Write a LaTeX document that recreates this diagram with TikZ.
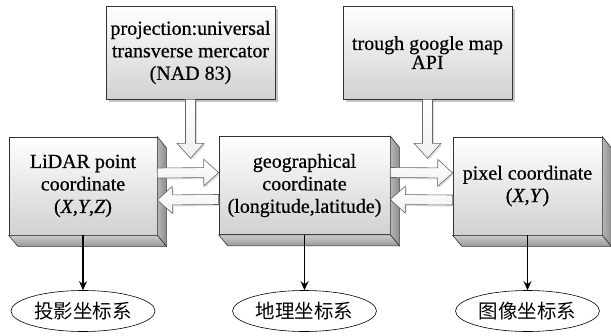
\documentclass[tikz,border=0pt]{standalone}
\usepackage{fontspec}
\setmainfont{Liberation Serif}[FakeBold=0.6]
\newfontfamily\cjk{Noto Sans CJK SC}
\usetikzlibrary{calc,shapes.geometric,shadows,arrows.meta}

\tikzset{
  facebox/.style={draw=black!80, line width=0.6pt, top color=white, bottom color=black!18,
    align=center, inner sep=0pt, font=\fontsize{20}{22.5}\selectfont},
  srcbox/.style={facebox, minimum width=169pt, minimum height=93pt,
    drop shadow={shadow xshift=2.5pt, shadow yshift=-2.5pt, opacity=0.45}},
  solidbox/.style={facebox, minimum height=98pt},
  sideface/.style={draw=black!80, line width=0.6pt, left color=black!28, right color=black!45},
  bottomface/.style={draw=black!80, line width=0.6pt, top color=black!20, bottom color=black!40},
  hollow/.style={draw=black!60, line width=0.6pt, top color=white, bottom color=black!6,
    drop shadow={shadow xshift=1.5pt, shadow yshift=-1.5pt, opacity=0.25}},
  sysellipse/.style={ellipse, draw, line width=0.6pt, fill=white, minimum width=144pt,
    minimum height=41pt, inner sep=0pt, font=\cjk\fontsize{19.5}{20}\selectfont},
  maparrow/.style={-{Stealth[length=9pt,width=8pt]}, line width=1.2pt}
}

% right and bottom faces of a solid box
\newcommand\extrude[1]{%
  \path[sideface] (#1.north east) -- ++(9,11) -- ($(#1.south east)+(9,11)$) -- (#1.south east) -- cycle;
  \path[bottomface] (#1.south west) -- ++(9,11) -- ($(#1.south east)+(9,11)$) -- (#1.south east) -- cycle;
}

% hollow block arrow from #1 to the tip #2
\newcommand\hollowarrow[2]{%
  \coordinate (hb) at ($(#2)!15pt!(#1)$);
  \path[hollow] ($(#1)!5pt!90:(#2)$) -- ($(hb)!5pt!90:(#2)$) -- ($(hb)!13.5pt!90:(#2)$)
    -- (#2) -- ($(hb)!13.5pt!-90:(#2)$) -- ($(hb)!5pt!-90:(#2)$) -- ($(#1)!5pt!-90:(#2)$) -- cycle;
}

\begin{document}
\begin{tikzpicture}[x=1pt,y=-1pt]
\fill[white] (0,0) rectangle (611,335);
\useasboundingbox (0,0) rectangle (611,335);

% source boxes
\node[srcbox] (proj) at (190.5,52.5) {projection:universal\\transverse mercator\\(NAD 83)};
\node[srcbox, font=\fontsize{20}{19}\selectfont] (api) at (427.5,52.5) {trough google map\\API};

% coordinate boxes
\node[solidbox, minimum width=148pt] (lidar) at (83,186) {LiDAR point\\coordinate\\(\textit{X},\textit{Y},\textit{Z})};
\node[solidbox, minimum width=171pt] (geo) at (304.5,185.5) {geographical\\coordinate\\(longitude,latitude)};
\node[solidbox, minimum width=149pt] (pix) at (527.5,186) {pixel coordinate\\(\textit{X},\textit{Y})};
\extrude{lidar}
\extrude{geo}
\extrude{pix}

% coordinate systems
\node[sysellipse] (e1) at ($(lidar.center)+(0,125)$) {投影坐标系};
\node[sysellipse] (e2) at ($(geo.center)+(0,125.5)$) {地理坐标系};
\node[sysellipse] (e3) at ($(pix.center)+(0,125)$) {图像坐标系};

% hollow transfer arrows
\coordinate (ptip) at ($(proj.south)+(0,59)$);
\coordinate (atip) at ($(api.south)+(0,59)$);
\hollowarrow{proj.south}{ptip}
\hollowarrow{api.south}{atip}

\coordinate (lgs) at ([yshift=13pt]lidar.east);
\coordinate (lgt) at ([yshift=13pt]geo.west);
\coordinate (gls) at ([yshift=-14pt]geo.west);
\coordinate (glt) at ([yshift=-14pt]lidar.east);
\hollowarrow{lgs}{lgt}
\hollowarrow{gls}{glt}

\coordinate (gps) at ([yshift=13pt]geo.east);
\coordinate (gpt) at ([yshift=13pt]pix.west);
\coordinate (pgs) at ([yshift=-14pt]pix.west);
\coordinate (pgt) at ([yshift=-14pt]geo.east);
\hollowarrow{gps}{gpt}
\hollowarrow{pgs}{pgt}

% links to coordinate systems
\draw[maparrow] (lidar.south) -- (e1.north);
\draw[maparrow] (geo.south) -- (e2.north);
\draw[maparrow] (pix.south) -- (e3.north);
\end{tikzpicture}
\end{document}
